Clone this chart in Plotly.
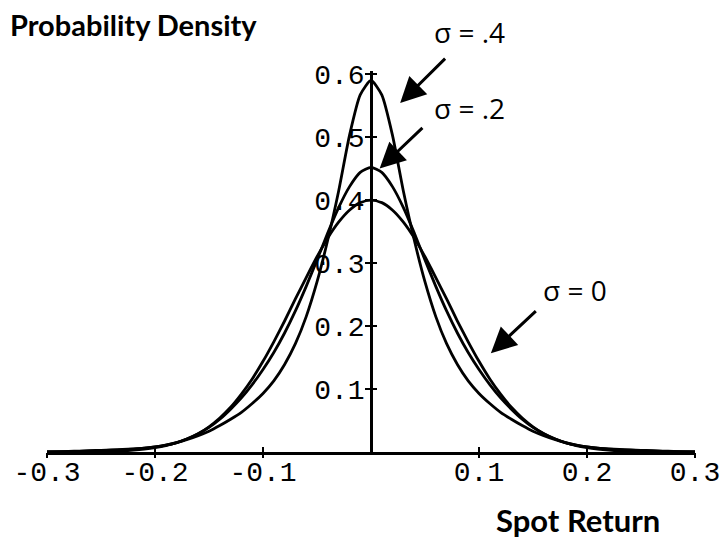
import plotly.graph_objects as go

# x grid (Spot Return)
x_vals = [round(-0.30 + 0.01 * i, 2) for i in range(61)]

# sigma = 0 curve (half: x = 0.00 .. 0.30)
sig0_half = [0.400, 0.396, 0.384, 0.365, 0.340, 0.310, 0.277, 0.243, 0.208, 0.175,
             0.144, 0.116, 0.092, 0.071, 0.054, 0.040, 0.029, 0.021, 0.0147, 0.010,
             0.0068, 0.0045, 0.0029, 0.0018, 0.0011, 0.0007, 0.0004, 0.0002, 0.0001, 0.0, 0.0]
# sigma = .2 curve
sig2_half = [0.452, 0.444, 0.421, 0.388, 0.348, 0.305, 0.263, 0.224, 0.189, 0.158,
             0.131, 0.107, 0.086, 0.068, 0.052, 0.039, 0.029, 0.021, 0.015, 0.011,
             0.008, 0.006, 0.0045, 0.0035, 0.0028, 0.0022, 0.0016, 0.0011, 0.0007, 0.0003, 0.0]
# sigma = .4 curve
sig4_half = [0.590, 0.567, 0.502, 0.414, 0.337, 0.270, 0.215, 0.172, 0.139, 0.113,
             0.093, 0.077, 0.063, 0.052, 0.042, 0.033, 0.026, 0.020, 0.015, 0.011,
             0.008, 0.006, 0.0048, 0.004, 0.0033, 0.0027, 0.0021, 0.0015, 0.001, 0.0005, 0.0]

sig0 = sig0_half[:0:-1] + sig0_half
sig2 = sig2_half[:0:-1] + sig2_half
sig4 = sig4_half[:0:-1] + sig4_half

x_ticks = [-0.3, -0.2, -0.1, 0.1, 0.2, 0.3]
x_tick_text = ["-0.3", "-0.2", "-0.1", "0.1", "0.2", "0.3"]
y_ticks = [0.1, 0.2, 0.3, 0.4, 0.5, 0.6]
y_tick_text = ["0.1", "0.2", "0.3", "0.4", "0.5", "0.6"]

fig = go.Figure()
for ys in (sig0, sig2, sig4):
    fig.add_trace(go.Scatter(x=x_vals, y=ys, mode="lines",
                             line=dict(color="black", width=2.8, shape="spline", smoothing=0.6),
                             showlegend=False, hoverinfo="skip"))
# dummy trace for overlay axes (crossing ticks)
fig.add_trace(go.Scatter(x=[0], y=[0], xaxis="x2", yaxis="y2", mode="markers",
                         marker=dict(opacity=0), showlegend=False, hoverinfo="skip"))

tickfont = dict(family="Liberation Mono", size=28, color="black")
fig.update_layout(
    width=722, height=540,
    margin=dict(l=47, r=27, t=71, b=88, autoexpand=False),
    paper_bgcolor="white", plot_bgcolor="white",
    xaxis=dict(range=[-0.3, 0.3], showgrid=False, zeroline=False, automargin=False,
               showline=True, linecolor="black", linewidth=2.5,
               ticks="inside", ticklen=5, tickwidth=2, tickcolor="black",
               ticklabelstandoff=-7,
               tickvals=x_ticks, ticktext=x_tick_text, tickfont=tickfont),
    yaxis=dict(range=[0, 0.605], showgrid=False, zeroline=False, automargin=False,
               anchor="free", position=0.5,
               showline=True, linecolor="black", linewidth=2.5,
               ticks="outside", ticklen=5, tickwidth=2, tickcolor="black",
               ticklabelstandoff=-5,
               tickvals=y_ticks, ticktext=y_tick_text, tickfont=tickfont),
    xaxis2=dict(range=[-0.3, 0.3], overlaying="x", anchor="y2", showgrid=False,
                zeroline=False, showline=False, ticks="outside", ticklen=5, automargin=False,
                tickwidth=2, tickcolor="black", tickvals=x_ticks, showticklabels=False),
    yaxis2=dict(range=[0, 0.605], overlaying="y", anchor="free", position=0.5,
                showgrid=False, zeroline=False, showline=False, ticks="inside",
                ticklen=5, tickwidth=2, tickcolor="black", tickvals=y_ticks, automargin=False,
                showticklabels=False),
)

fig.add_annotation(text="<b>Probability Density</b>", xref="paper", yref="paper",
                   x=-0.06, y=1.122, xanchor="left", yanchor="middle",
                   showarrow=False, font=dict(family="Lato", size=29, color="black"))
fig.add_annotation(text="<b>Spot Return</b>", xref="paper", yref="paper",
                   x=0.82, y=-0.178, xanchor="center", yanchor="middle",
                   showarrow=False, font=dict(family="Lato", size=31, color="black"))

sig_font = dict(family="Open Sans", size=28, color="black")
fig.add_annotation(text="σ = .4", xref="paper", yref="paper", x=0.594, y=1.102,
                   xanchor="left", yanchor="middle", showarrow=False, font=sig_font)
fig.add_annotation(text="σ = .2", xref="paper", yref="paper", x=0.594, y=0.903,
                   xanchor="left", yanchor="middle", showarrow=False, font=sig_font)
fig.add_annotation(text="σ = 0", xref="paper", yref="paper", x=0.763, y=0.425,
                   xanchor="left", yanchor="middle", showarrow=False, font=sig_font)
# arrows
for (hx, hy, tx, ty) in [(0.027, 0.554, 0.070, 0.627),
                         (0.008, 0.450, 0.049, 0.517),
                         (0.111, 0.157, 0.154, 0.226)]:
    fig.add_annotation(x=hx, y=hy, ax=tx, ay=ty, xref="x", yref="y", axref="x", ayref="y",
                       text="", showarrow=True, arrowhead=2, arrowsize=1.7,
                       arrowwidth=3, arrowcolor="black")

fig.write_html("out.html", config={"displayModeBar": False},
               post_script="document.body.style.margin='0';")
